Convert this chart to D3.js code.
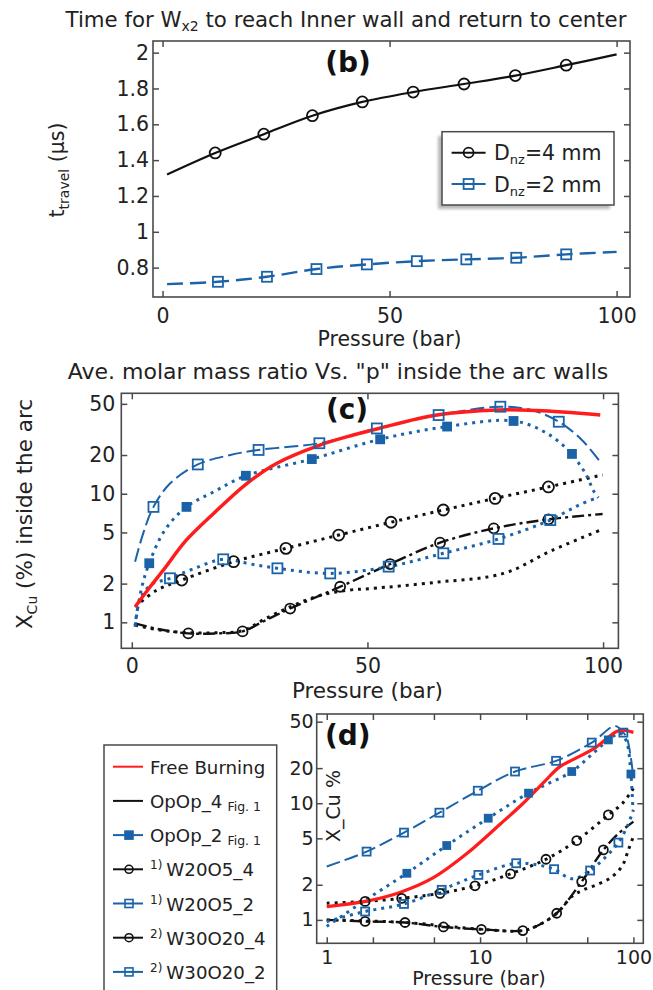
<!DOCTYPE html>
<html><head><meta charset="utf-8">
<script src="https://cdn.jsdelivr.net/npm/d3@7"></script>
<style>
body{margin:0;background:#fff}
text{font-family:"DejaVu Sans",sans-serif;fill:#222}
</style>
</head><body><script>
// ================= DATA =================
// ---- panel (b): travel time vs pressure ----
const bXTicks = [0, 50, 100];
const bYTicks = [0.8, 1, 1.2, 1.4, 1.6, 1.8, 2];
const bPressure4 = [1, 11.6, 22.3, 33, 44, 55.2, 66.4, 77.7, 88.9, 100];
const bTime4     = [1.32, 1.44, 1.545, 1.648, 1.725, 1.78, 1.825, 1.872, 1.93, 1.99];
const bPressure2 = [1, 12.2, 23, 33.9, 45, 56, 66.9, 77.9, 88.9, 100];
const bTime2     = [0.708, 0.721, 0.749, 0.792, 0.818, 0.836, 0.846, 0.855, 0.874, 0.888];
const bLegendTail = ["=4 mm", "=2 mm"];

// ---- panel (c): X_Cu vs pressure (linear x) ----
const cXTicks = [0, 50, 100];
const cYTicks = [1, 2, 5, 10, 20, 50];
const cFreeBurning = [[0.7,1.32],[3.9,1.89],[6.7,2.55],[11.6,4.37],[17.3,7.0],[24.4,12],[30.7,17.2],[39.9,23.9],[47,28.6],[52.4,32.2],[64.7,40.9],[77.5,44.8],[86,44.3],[99.4,40.9]];
const cBlueDashLine = [[0.7,2.96],[2.4,4.9],[4.6,7.9],[8.1,12],[14,16.9],[20.9,20],[26.9,21.9],[39.8,24.7],[52,32.2],[65.1,40.9],[78.2,47.5],[85,44.5],[90.6,36.3],[95.5,26.2],[99.4,17.7]];
const cBlueDashMarks = [[4.6,7.9],[14,16.9],[26.9,21.9],[39.8,24.7],[52,32.2],[65.1,40.9],[78.2,47.5],[90.6,36.3]];
const cOpOp2Line = [[0.7,0.95],[2,1.8],[3.7,2.88],[7,5.2],[11.6,7.9],[17.5,10.4],[24.2,13.8],[38.2,18.6],[52.7,26.5],[66.9,33.3],[81,36.8],[88.1,29.5],[93.4,20.4],[95.1,16.7],[96.2,14.5],[97.1,12.4],[98,10.5],[99,9.3]];
const cOpOp2Marks = [[3.7,2.88],[11.6,7.9],[24.2,13.8],[38.2,18.6],[52.7,26.5],[66.9,33.3],[81,36.8],[93.4,20.4]];
const cBlueDotLine = [[0.7,0.92],[1.7,1.49],[4,1.95],[8.1,2.2],[13,2.6],[19.4,3.09],[25,2.85],[30.9,2.63],[42.1,2.4],[54.5,2.71],[66.1,3.44],[77.8,4.45],[88.8,6.24],[92,7.2],[95,8.2],[98.7,9.3]];
const cBlueDotMarks = [[8.1,2.2],[19.4,3.09],[30.9,2.63],[42.1,2.4],[54.5,2.71],[66.1,3.44],[77.8,4.45],[88.8,6.24]];
const cBlackDotCircLine = [[0.7,1.32],[5,1.75],[10.6,2.13],[21.6,2.96],[32.7,3.76],[43.9,4.77],[55,6.0],[66.1,7.47],[77.1,9.2],[88.4,11.3],[99.9,14]];
const cBlackDotCircMarks = [[10.6,2.13],[21.6,2.96],[32.7,3.76],[43.9,4.77],[55,6.0],[66.1,7.47],[77.1,9.2],[88.4,11.3]];
const cBlackDashDotLine = [[0.7,0.98],[6,0.88],[12,0.82],[18,0.82],[23.5,0.85],[28,1.02],[33.6,1.28],[44.2,1.89],[54.8,2.84],[65.4,4.16],[76.8,5.38],[88.4,6.32],[99.9,6.95]];
const cBlackDashDotMarks = [[12,0.82],[23.5,0.85],[33.6,1.28],[44.2,1.89],[54.8,2.84],[65.4,4.16],[76.8,5.38],[88.4,6.32]];
const cBlackDotLine = [[0.7,0.95],[6,0.87],[12,0.83],[18,0.83],[23.5,0.86],[28,1.05],[33.6,1.32],[40,1.62],[46,1.78],[50.6,1.83],[64.7,2.05],[78.9,2.4],[89,3.6],[99.9,5.3]];

// ---- panel (d): X_Cu vs pressure (log x) ----
const dXTicks = [1, 2, 5, 10, 20, 50, 100];
const dXLabels = [1, 10, 100];
const dYTicks = [1, 2, 5, 10, 20, 50];
const dFreeBurning = [[1,1.3],[1.82,1.45],[3,1.72],[4.96,2.3],[8.2,3.7],[13.5,6.6],[19.1,10],[26.5,15.5],[33,20.5],[40,23.5],[56.6,30],[78.3,41.5],[88,42],[100,40.5]];
const dBlueDashLine = [[1,2.87],[1.82,3.85],[3.19,5.6],[5.43,8.3],[9.66,12.8],[16.9,18.7],[31.3,23.1],[53.5,33.1],[76,46],[86,40.3],[90.6,36.3],[95.5,26.2],[99.4,17.7]];
const dBlueDashMarks = [[1.82,3.85],[3.19,5.6],[5.43,8.3],[9.66,12.8],[16.9,18.7],[31.3,23.1],[53.5,33.1],[86,40.3]];
const dOpOp2Line = [[1,0.88],[1.82,1.5],[3.33,2.51],[6.06,4.34],[11.3,7.44],[20.7,12.2],[39.6,18.7],[55,27],[68.7,34.9],[82,39.8],[90,34],[96.3,17.8],[99,9.5]];
const dOpOp2Marks = [[3.33,2.51],[6.06,4.34],[11.3,7.44],[20.7,12.2],[39.6,18.7],[68.7,34.9],[96.3,17.8]];
const dBlueDotLine = [[1,0.97],[1.78,1.18],[3.19,1.37],[5.62,1.81],[9.75,2.43],[17.2,3.06],[24,2.95],[30.4,2.72],[40,2.25],[52.2,2.65],[65,3.4],[79.8,4.6],[92,6.5],[100,8.8]];
const dBlueDotMarks = [[1.78,1.18],[3.19,1.37],[5.62,1.81],[9.75,2.43],[17.2,3.06],[30.4,2.72],[52.2,2.65],[79.8,4.6]];
const dBlackDotCircLine = [[1,1.39],[1.78,1.44],[3.08,1.53],[5.48,1.69],[9.27,1.96],[15.8,2.48],[26.9,3.31],[42.7,4.79],[68.7,7.94],[85,10],[100,13.4]];
const dBlackDotCircMarks = [[1.78,1.44],[3.08,1.53],[5.48,1.69],[9.27,1.96],[15.8,2.48],[26.9,3.31],[42.7,4.79],[68.7,7.94]];
const dBlackDashDotLine = [[1,1.0],[1.78,0.97],[3.24,0.95],[5.77,0.87],[10.2,0.83],[19,0.81],[24,0.9],[31.6,1.14],[46,2.13],[63.7,3.98],[80,5.5],[100,6.96]];
const dBlackDashDotMarks = [[1.78,0.97],[3.24,0.95],[5.77,0.87],[10.2,0.83],[19,0.81],[31.6,1.14],[46,2.13],[63.7,3.98]];
const dBlackDotLine = [[1,1.0],[3.24,0.95],[10.2,0.83],[19,0.81],[24,0.9],[31.6,1.14],[40,1.6],[47.2,1.81],[57.6,2.0],[70.4,2.28],[84.1,2.87],[92.7,3.98],[100,5.2]];

// ---- legend (d) ----
const dLegendNames = ["Free Burning", "OpOp_4", "OpOp_2", "W20O5_4", "W20O5_2", "W30O20_4", "W30O20_2"];
const dLegendSup   = ["", "", "", "1)", "1)", "2)", "2)"];
const dLegendNote  = ["", "Fig. 1", "Fig. 1", "", "", "", ""];

// ================= DRAWING =================
const W = 653, H = 990;
const FRAME = "#4a4a4a", BLUE = "#1b63a8", RED = "#ff1c1c", BLACK = "#111";
const svg = d3.select("body").append("svg").attr("width", W).attr("height", H);
svg.append("rect").attr("width", W).attr("height", H).attr("fill", "#fff");
const defs = svg.append("defs");
defs.append("filter").attr("id", "blur").append("feGaussianBlur").attr("stdDeviation", 1.5);

function frame(x, y) {
  const [x0, x1] = x.range(), [y1, y0] = y.range();
  svg.append("rect").attr("x", x0).attr("y", y0).attr("width", x1 - x0).attr("height", y1 - y0)
    .attr("fill", "none").attr("stroke", FRAME).attr("stroke-width", 1.6);
}
function styleAxis(g, fs) {
  g.select(".domain").remove();
  g.attr("font-family", "DejaVu Sans").attr("font-size", fs).attr("color", "#222");
  g.selectAll(".tick line").attr("stroke", FRAME).attr("stroke-width", 1.5);
  return g;
}
function axes(x, y, xt, yt, fs, xPad, yPad, xfmt, yfmt) {
  const [x0, x1] = x.range(), [y1, y0] = y.range();
  styleAxis(svg.append("g").attr("transform", `translate(0,${y1})`)
    .call(d3.axisBottom(x).tickValues(xt).tickFormat(xfmt).tickSizeInner(-6).tickSizeOuter(0).tickPadding(xPad)), fs);
  styleAxis(svg.append("g").attr("transform", `translate(0,${y0})`)
    .call(d3.axisTop(x).tickValues(xt).tickFormat("").tickSizeInner(-6).tickSizeOuter(0)), fs);
  styleAxis(svg.append("g").attr("transform", `translate(${x0},0)`)
    .call(d3.axisLeft(y).tickValues(yt).tickFormat(yfmt).tickSizeInner(-6).tickSizeOuter(0).tickPadding(yPad)), fs);
  styleAxis(svg.append("g").attr("transform", `translate(${x1},0)`)
    .call(d3.axisRight(y).tickValues(yt).tickFormat("").tickSizeInner(-6).tickSizeOuter(0)), fs);
}
function line(x, y, pts, color, width, dash, cap) {
  svg.append("path").datum(pts)
    .attr("d", d3.line().x(d => x(d[0])).y(d => y(d[1])).curve(d3.curveCatmullRom.alpha(0.5)))
    .attr("fill", "none").attr("stroke", color).attr("stroke-width", width)
    .attr("stroke-dasharray", dash || null).attr("stroke-linecap", cap || "butt").attr("stroke-linejoin", "round");
}
function marks(x, y, pts, shape, color, size, filled) {
  const g = svg.append("g");
  pts.forEach(d => {
    const cx = x(d[0]), cy = y(d[1]);
    if (shape === "circle") {
      g.append("circle").attr("cx", cx).attr("cy", cy).attr("r", size / 2)
        .attr("fill", filled ? color : "none").attr("stroke", color).attr("stroke-width", 1.8);
    } else {
      g.append("rect").attr("x", cx - size / 2).attr("y", cy - size / 2).attr("width", size).attr("height", size)
        .attr("fill", filled ? color : "none").attr("stroke", color).attr("stroke-width", 1.8);
    }
  });
}
const numFmt = d => d3.format("~g")(d);

// ---------- Panel (b) ----------
const xB = d3.scaleLinear().domain([-2.1, 102.95]).range([153, 630]);
const yB = d3.scaleLinear().domain([0.636, 2.065]).range([297, 41]);
axes(xB, yB, bXTicks, bYTicks, 20.5, 11, 4, numFmt, numFmt);
frame(xB, yB);
const ser4 = bPressure4.map((p, i) => [p, bTime4[i]]);
const ser2 = bPressure2.map((p, i) => [p, bTime2[i]]);
line(xB, yB, ser4, BLACK, 2.2);
line(xB, yB, ser2, BLUE, 2.4, "16,7");
marks(xB, yB, ser4.slice(1, -1), "circle", BLACK, 11);
marks(xB, yB, ser2.slice(1, -1), "square", BLUE, 10);

svg.append("text").attr("x", 346).attr("y", 27).attr("text-anchor", "middle").attr("font-size", 21.3)
  .call(t => {
    t.append("tspan").text("Time for W");
    t.append("tspan").attr("font-size", 14).attr("dy", 4).text("x2");
    t.append("tspan").attr("dy", -4).text(" to reach Inner wall and return to center");
  });
svg.append("text").attr("x", xB(50)).attr("y", 346).attr("text-anchor", "middle").attr("font-size", 20.5).text("Pressure (bar)");
svg.append("text").attr("transform", "translate(64,170) rotate(-90)").attr("text-anchor", "middle").attr("font-size", 20.5)
  .call(t => {
    t.append("tspan").text("t");
    t.append("tspan").attr("font-size", 14).attr("dy", 5).text("travel");
    t.append("tspan").attr("dy", -5).text(" (μs)");
  });
svg.append("text").attr("x", 348).attr("y", 72).attr("text-anchor", "middle").attr("font-family", "Open Sans")
  .attr("font-weight", 700).attr("font-size", 28).style("fill", "#111").text("(b)");

// legend (b)
svg.append("rect").attr("x", 438).attr("y", 136).attr("width", 172).attr("height", 73).attr("fill", "#999")
  .attr("opacity", 0.7).attr("filter", "url(#blur)");
svg.append("rect").attr("x", 442).attr("y", 131.7).attr("width", 172).attr("height", 73.3)
  .attr("fill", "#fff").attr("stroke", FRAME).attr("stroke-width", 1.5);
[[BLACK, "circle"], [BLUE, "square"]].forEach((s, i) => {
  const ly = 152.7 + i * 31.3;
  svg.append("line").attr("x1", 451.6).attr("x2", 485.6).attr("y1", ly).attr("y2", ly).attr("stroke", s[0]).attr("stroke-width", 2);
  if (s[1] === "circle") svg.append("circle").attr("cx", 468.6).attr("cy", ly).attr("r", 5).attr("fill", "none").attr("stroke", s[0]).attr("stroke-width", 1.8);
  else svg.append("rect").attr("x", 463.6).attr("y", ly - 5).attr("width", 10).attr("height", 10).attr("fill", "none").attr("stroke", s[0]).attr("stroke-width", 1.8);
  svg.append("text").attr("x", 494).attr("y", ly + 7.5).attr("font-size", 20.5).call(t => {
    t.append("tspan").text("D");
    t.append("tspan").attr("font-size", 13).attr("dy", 4).text("nz");
    t.append("tspan").attr("dy", -4).text(bLegendTail[i]);
  });
});

// ---------- Panel (c) ----------
const xC = d3.scaleLinear().domain([-2.23, 103.25]).range([121.3, 618.4]);
const yC = d3.scaleLog().domain([0.628, 60.4]).range([648.3, 393.3]);
axes(xC, yC, cXTicks, cYTicks, 20.5, 10, 6, numFmt, d3.format("d"));
frame(xC, yC);
const DOT = "3,5", DASH = "14,5", DASHDOT = "12,4,3,4";
line(xC, yC, cBlackDotLine, BLACK, 3, DOT);
line(xC, yC, cBlackDashDotLine, BLACK, 2.4, DASHDOT);
line(xC, yC, cBlackDotCircLine, BLACK, 3, DOT);
line(xC, yC, cBlueDotLine, BLUE, 3, DOT);
line(xC, yC, cOpOp2Line, BLUE, 3, DOT);
line(xC, yC, cBlueDashLine, BLUE, 2, DASH);
line(xC, yC, cFreeBurning, RED, 3.5);
marks(xC, yC, cBlackDashDotMarks, "circle", BLACK, 10);
marks(xC, yC, cBlackDotCircMarks, "circle", BLACK, 11);
marks(xC, yC, cBlueDotMarks, "square", BLUE, 10);
marks(xC, yC, cOpOp2Marks, "square", BLUE, 8, true);
marks(xC, yC, cBlueDashMarks, "square", BLUE, 10);

svg.append("text").attr("x", 338).attr("y", 379).attr("text-anchor", "middle").attr("font-size", 22)
  .text('Ave. molar mass ratio Vs. "p" inside the arc walls');
svg.append("text").attr("x", xC(50)).attr("y", 698).attr("text-anchor", "middle").attr("font-size", 21.5).text("Pressure (bar)");
svg.append("text").attr("transform", "translate(32,514) rotate(-90)").attr("text-anchor", "middle").attr("font-size", 21.5)
  .call(t => {
    t.append("tspan").text("X");
    t.append("tspan").attr("font-size", 14).attr("dy", 5).text("Cu");
    t.append("tspan").attr("dy", -5).text(" (%) inside the arc");
  });
svg.append("text").attr("x", 347).attr("y", 419).attr("text-anchor", "middle").attr("font-family", "Open Sans")
  .attr("font-weight", 700).attr("font-size", 28).style("fill", "#111").text("(c)");

// ---------- Panel (d) ----------
const xD = d3.scaleLog().domain([0.86, 116]).range([316.7, 643.3]);
const yD = d3.scaleLog().domain([0.63, 58.2]).range([943.3, 714]);
axes(xD, yD, dXTicks, dYTicks, 19, 7, 3, d => dXLabels.includes(d) ? d : "", d3.format("d"));
frame(xD, yD);
line(xD, yD, dBlackDotLine, BLACK, 3, DOT);
line(xD, yD, dBlackDashDotLine, BLACK, 2.4, DASHDOT);
line(xD, yD, dBlackDotCircLine, BLACK, 3, DOT);
line(xD, yD, dBlueDotLine, BLUE, 3, DOT);
line(xD, yD, dOpOp2Line, BLUE, 3, DOT);
line(xD, yD, dBlueDashLine, BLUE, 2, DASH);
line(xD, yD, dFreeBurning, RED, 3.2);
marks(xD, yD, dBlackDashDotMarks, "circle", BLACK, 9);
marks(xD, yD, dBlackDotCircMarks, "circle", BLACK, 9);
marks(xD, yD, dBlueDotMarks, "square", BLUE, 8);
marks(xD, yD, dOpOp2Marks, "square", BLUE, 7, true);
marks(xD, yD, dBlueDashMarks, "square", BLUE, 8);

svg.append("text").attr("x", 479).attr("y", 985).attr("text-anchor", "middle").attr("font-size", 19).text("Pressure (bar)");
svg.append("text").attr("transform", "translate(340,806) rotate(-90)").attr("text-anchor", "middle").attr("font-size", 19).text("X_Cu %");
svg.append("text").attr("x", 325).attr("y", 745).attr("font-family", "Open Sans")
  .attr("font-weight", 700).attr("font-size", 28).style("fill", "#111").text("(d)");

// legend (d)
svg.append("rect").attr("x", 104).attr("y", 745).attr("width", 172.7).attr("height", 260)
  .attr("fill", "#fff").attr("stroke", FRAME).attr("stroke-width", 1.5);
const dLegStyle = [[RED, null, false], [BLACK, null, false], [BLUE, "square", true], [BLACK, "circle", false],
                   [BLUE, "square", false], [BLACK, "circle", false], [BLUE, "square", false]];
dLegendNames.forEach((name, i) => {
  const ly = 766.7 + i * 34.2, st = dLegStyle[i];
  svg.append("line").attr("x1", 113).attr("x2", 143).attr("y1", ly).attr("y2", ly).attr("stroke", st[0]).attr("stroke-width", 2);
  if (st[1] === "circle") svg.append("circle").attr("cx", 129).attr("cy", ly).attr("r", 4).attr("fill", "none").attr("stroke", st[0]).attr("stroke-width", 1.6);
  if (st[1] === "square") svg.append("rect").attr("x", 125).attr("y", ly - 4).attr("width", 8).attr("height", 8)
    .attr("fill", st[2] ? st[0] : "none").attr("stroke", st[0]).attr("stroke-width", 1.6);
  svg.append("text").attr("x", 150).attr("y", ly + 7).attr("font-size", 18.2).call(t => {
    if (dLegendSup[i]) {
      t.append("tspan").attr("font-size", 12).attr("dy", -7).text(dLegendSup[i]);
      t.append("tspan").attr("dx", 4).attr("dy", 7).text(name);
    } else t.append("tspan").text(name);
    if (dLegendNote[i]) t.append("tspan").attr("font-size", 12.5).attr("dx", 5).attr("dy", 3).text(dLegendNote[i]);
  });
});
</script></body></html>
